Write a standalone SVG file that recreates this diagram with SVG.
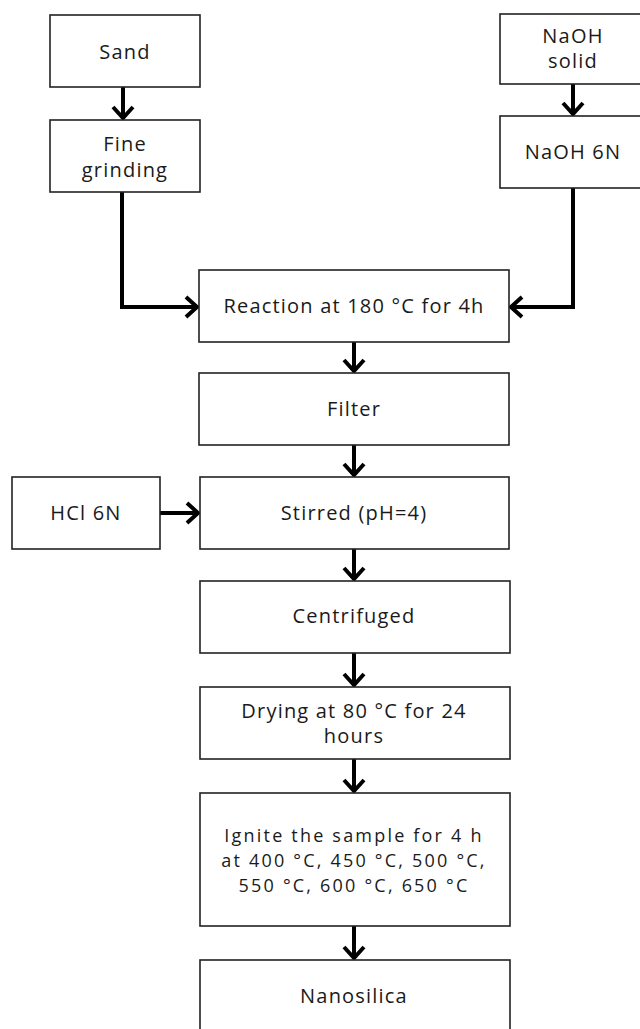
<svg xmlns="http://www.w3.org/2000/svg" width="640" height="1029" viewBox="0 0 640 1029">
<defs>
<style>
.box{fill:#fff;stroke:#222;stroke-width:1.6}
.t{font-family:"Open Sans","Noto Sans",sans-serif;font-size:20px;letter-spacing:1.2px;fill:#1a1a1a;text-anchor:middle}
.s{font-size:18px;letter-spacing:2.2px}
.c{fill:none;stroke:#000;stroke-width:4}
</style>
<marker id="ah" markerUnits="userSpaceOnUse" viewBox="-14 -12 16 24" refX="0" refY="0" markerWidth="16" markerHeight="24" orient="auto" overflow="visible">
<path d="M-11,-10 L0,0 L-11,10" fill="none" stroke="#000" stroke-width="4"/>
</marker>
</defs>
<rect width="640" height="1029" fill="#fff"/>
<g id="connectors">
<line class="c" x1="123" y1="87" x2="123" y2="118" marker-end="url(#ah)"/>
<line class="c" x1="573" y1="84" x2="573" y2="114" marker-end="url(#ah)"/>
<polyline class="c" points="122,192 122,307 197,307" marker-end="url(#ah)"/>
<polyline class="c" points="573,188 573,307 511,307" marker-end="url(#ah)"/>
<line class="c" x1="354" y1="342" x2="354" y2="371" marker-end="url(#ah)"/>
<line class="c" x1="354" y1="445" x2="354" y2="475" marker-end="url(#ah)"/>
<line class="c" x1="160" y1="513" x2="198" y2="513" marker-end="url(#ah)"/>
<line class="c" x1="354" y1="549" x2="354" y2="579" marker-end="url(#ah)"/>
<line class="c" x1="354" y1="653" x2="354" y2="685" marker-end="url(#ah)"/>
<line class="c" x1="354" y1="759" x2="354" y2="791" marker-end="url(#ah)"/>
<line class="c" x1="354" y1="926" x2="354" y2="958" marker-end="url(#ah)"/>
</g>
<g id="sand"><rect class="box" x="50" y="15" width="150" height="72"/><text class="t" x="125" y="59">Sand</text></g>
<g id="fine-grinding"><rect class="box" x="50" y="120" width="150" height="72"/><text class="t" x="125" y="151">Fine</text><text class="t" x="125" y="177">grinding</text></g>
<g id="naoh-solid"><rect class="box" x="500" y="14" width="150" height="70"/><text class="t" x="573" y="43">NaOH</text><text class="t" x="573" y="68">solid</text></g>
<g id="naoh-6n"><rect class="box" x="500" y="116" width="150" height="72"/><text class="t" x="573" y="159">NaOH 6N</text></g>
<g id="reaction"><rect class="box" x="199" y="270" width="310" height="72"/><text class="t" x="354" y="313">Reaction at 180 °C for 4h</text></g>
<g id="filter"><rect class="box" x="199" y="373" width="310" height="72"/><text class="t" x="354" y="416">Filter</text></g>
<g id="hcl"><rect class="box" x="12" y="477" width="148" height="72"/><text class="t" x="86" y="520">HCl 6N</text></g>
<g id="stirred"><rect class="box" x="200" y="477" width="309" height="72"/><text class="t" x="354" y="520">Stirred (pH=4)</text></g>
<g id="centrifuged"><rect class="box" x="200" y="581" width="310" height="72"/><text class="t" x="354" y="623">Centrifuged</text></g>
<g id="drying"><rect class="box" x="200" y="687" width="310" height="72"/><text class="t" x="354" y="718">Drying at 80 °C for 24</text><text class="t" x="354" y="743">hours</text></g>
<g id="ignite"><rect class="box" x="200" y="793" width="310" height="133"/><text class="t s" x="354" y="842">Ignite the sample for 4 h</text><text class="t s" x="354" y="867">at 400 °C, 450 °C, 500 °C,</text><text class="t s" x="354" y="892">550 °C, 600 °C, 650 °C</text></g>
<g id="nanosilica"><rect class="box" x="200" y="960" width="310" height="80"/><text class="t" x="354" y="1003">Nanosilica</text></g>
</svg>
